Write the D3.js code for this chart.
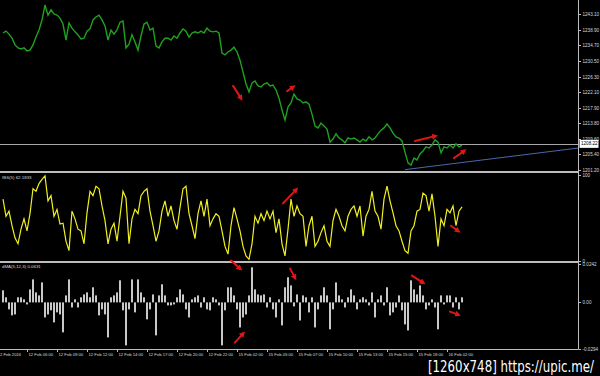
<!DOCTYPE html>
<html lang="en">
<head>
<meta charset="utf-8">
<title>xauusd_m1_ibs_dma</title>
<script src="https://d3js.org/d3.v7.min.js"></script>
<style>
	body { margin:0; background:#000; }
	svg { display:block; background:#000; }
	.Axis text { fill:#d8d8d8; font-family:"Liberation Sans", Arial, sans-serif; font-size:4.6px; }
	.x.Axis text { font-size:4.2px; }
	.Axis line { stroke:#bdbdbd; shape-rendering:crispEdges; }
	.Axis path { display:none; }
	.lbl { fill:#d8d8d8; font-family:"Liberation Sans", Arial, sans-serif; font-size:4.4px; }
</style>
</head>
<body>
<svg id="placeholder1"></svg>
<script>
// ============================================================
//                          data
// ============================================================

// close price, one value per bar (bar 1..154)
var priceData = [
	1238.0, 1238.5, 1237.7, 1236.6, 1234.8, 1234.0, 1233.7, 1234.0, 1233.2, 1233.4,
	1234.8, 1236.9, 1238.8, 1241.5, 1245.5, 1242.8, 1244.2, 1243.1, 1242.8, 1242.0,
	1240.4, 1236.1, 1240.7, 1239.3, 1238.3, 1237.5, 1236.4, 1236.6, 1238.5, 1239.1,
	1241.5, 1242.3, 1242.8, 1241.5, 1239.9, 1236.1, 1238.8, 1237.7, 1238.8, 1240.9,
	1241.2, 1234.0, 1235.0, 1237.5, 1235.6, 1233.4, 1237.2, 1240.4, 1240.9, 1238.8,
	1239.3, 1234.5, 1234.0, 1235.6, 1236.6, 1236.6, 1236.1, 1237.2, 1236.6, 1238.0,
	1239.1, 1238.5, 1236.9, 1238.0, 1238.3, 1238.0, 1238.5, 1238.0, 1239.3, 1238.5,
	1238.3, 1238.5, 1238.0, 1232.6, 1232.1, 1232.9, 1233.4, 1234.2, 1232.9, 1230.7,
	1227.5, 1224.3, 1222.2, 1224.6, 1225.1, 1223.8, 1223.5, 1224.3, 1224.6, 1223.8,
	1224.0, 1222.7, 1220.5, 1217.3, 1214.6, 1218.1, 1219.2, 1221.6, 1220.3, 1220.0,
	1219.2, 1219.5, 1218.9, 1216.2, 1213.0, 1212.5, 1213.8, 1213.0, 1212.2, 1208.7,
	1209.5, 1210.9, 1209.8, 1209.3, 1208.5, 1209.8, 1209.5, 1209.8, 1209.3, 1208.7,
	1209.5, 1209.0, 1210.1, 1209.3, 1209.8, 1210.9, 1211.9, 1212.5, 1213.6, 1212.5,
	1211.1, 1210.1, 1209.8, 1209.0, 1206.0, 1203.1, 1202.5, 1204.4, 1203.9, 1205.5,
	1206.3, 1207.4, 1207.1, 1207.9, 1209.3, 1208.7, 1205.8, 1207.4, 1207.1, 1207.9,
	1207.1, 1208.2, 1207.4, 1207.9
]

// IBS(5) oscillator
var ibsData = [
	72, 52, 58, 41, 27, 20, 37, 49, 35, 55,
	84, 81, 90, 95, 99, 70, 76, 52, 60, 43,
	44, 23, 12, 58, 49, 37, 35, 20, 56, 81,
	76, 87, 84, 64, 47, 20, 37, 44, 23, 52,
	81, 73, 20, 49, 60, 55, 76, 81, 84, 58,
	41, 23, 35, 58, 70, 52, 64, 47, 37, 62,
	84, 87, 55, 41, 26, 55, 70, 52, 72, 41,
	49, 55, 52, 35, 17, 8, 41, 62, 49, 35,
	17, 6, 2, 20, 52, 44, 55, 47, 58, 49,
	58, 33, 49, 20, 6, 37, 72, 52, 64, 55,
	52, 17, 41, 52, 17, 23, 33, 41, 23, 17,
	47, 60, 52, 41, 35, 52, 60, 64, 52, 64,
	29, 52, 60, 81, 58, 52, 37, 72, 87, 70,
	56, 41, 35, 23, 12, 9, 35, 41, 58, 60,
	79, 76, 58, 78, 52, 17, 49, 41, 60, 56,
	64, 41, 58, 63
]

// dMA(5,12,3) histogram
var dmaData = [
	0.0076, 0.0032, -0.0044, -0.0082, -0.0076, 0.0032, 0.0032, 0.0019, -0.0013, 0.0082,
	0.0145, 0.0063, 0.0044, 0.0126, -0.0095, -0.0076, -0.0050, -0.0126, -0.0063, -0.0076,
	-0.0189, 0.0044, 0.0145, -0.0032, 0.0019, -0.0032, 0.0032, 0.0050, 0.0063, 0.0032,
	0.0095, 0.0044, -0.0082, -0.0044, -0.0076, -0.0221, 0.0032, 0.0044, 0.0063, 0.0139,
	-0.0050, -0.0271, -0.0044, 0.0145, -0.0063, 0.0145, 0.0063, 0.0032, -0.0107, -0.0044,
	0.0050, -0.0208, 0.0044, 0.0114, 0.0044, -0.0019, -0.0019, -0.0013, 0.0032, 0.0082,
	0.0050, -0.0044, -0.0095, 0.0019, 0.0032, 0.0044, -0.0032, 0.0032, -0.0044, -0.0050,
	0.0032, 0.0019, -0.0019, -0.0271, -0.0050, 0.0095, 0.0095, 0.0044, -0.0044, -0.0158,
	-0.0095, -0.0076, 0.0044, 0.0221, 0.0082, 0.0050, 0.0044, 0.0050, -0.0032, 0.0032,
	-0.0044, -0.0095, 0.0019, -0.0145, 0.0095, 0.0158, 0.0107, -0.0025, 0.0050, -0.0114,
	0.0044, 0.0032, -0.0063, 0.0032, -0.0158, -0.0044, 0.0044, 0.0095, 0.0044, -0.0170,
	-0.0044, 0.0126, 0.0044, 0.0019, -0.0032, 0.0032, 0.0082, 0.0044, -0.0044, 0.0019,
	0.0032, 0.0019, -0.0019, 0.0063, -0.0095, 0.0019, 0.0044, -0.0019, 0.0095, -0.0082,
	-0.0063, -0.0032, 0.0044, -0.0050, -0.0139, -0.0177, 0.0139, 0.0082, 0.0050, 0.0107,
	0.0044, -0.0044, -0.0019, 0.0019, -0.0032, -0.0170, 0.0044, -0.0013, 0.0044, 0.0044,
	-0.0032, 0.0032, -0.0044, 0.0032
]

// time axis (bar index of each label)
var timeTicks = [-1.3, 9, 19, 29, 39, 49, 59, 69, 79, 89, 99, 109, 119, 129, 139, 149]
var timeLabels = ["12 Feb 2016", "12 Feb 06:00", "12 Feb 09:00", "12 Feb 12:00", "12 Feb 14:00",
	"12 Feb 17:00", "12 Feb 20:00", "12 Feb 22:00", "15 Feb 02:00", "15 Feb 05:00",
	"15 Feb 07:00", "15 Feb 10:00", "15 Feb 13:00", "15 Feb 15:00", "15 Feb 18:00", "16 Feb 02:00"]

// right scale labels
var priceTicks = [1243.10, 1238.90, 1234.70, 1230.50, 1226.30, 1222.10, 1217.90, 1213.80, 1209.60, 1205.40, 1201.20]
var ibsTicks = [100, 0]
var dmaTicks = [0.0242, 0, -0.0294]

var lastPrice = 1208.22
var ibsTitle = "IBS(5) 62.1833"
var dmaTitle = "dMA(5,12,3) 0.0631"

// trend line (bar index, price)
var trendLine = [[135, 1201.3], [192.7, 1207.1]]

// red hand arrows: panel, bar1, value1, bar2, value2
var arrows = [
	["price", 77.7, 1223.8, 80.3, 1220.5],
	["price", 95.7, 1222.4, 97.7, 1223.5],
	["price", 138.3, 1209.0, 145, 1210.3],
	["price", 151.3, 1204.4, 154.7, 1206.3],
	["ibs", 94.3, 67, 98.7, 83],
	["ibs", 150.3, 41, 152.7, 35],
	["dma", 77, 0.0264, 80, 0.0213],
	["dma", 78.3, -0.0254, 81, -0.0197],
	["dma", 96.7, 0.0213, 98.3, 0.0156],
	["dma", 137.3, 0.0169, 141, 0.0125],
	["dma", 150, -0.0058, 152.7, -0.0077]
]

// ============================================================
//                          init
// ============================================================
var green = "#1fa21f"
var yellow = "#f0f020"
var silver = "#c8c8c8"
var gray = "#bdbdbd"
var red = "#e01515"
var navy = "#4a68a8"

var wholeW = 600
var wholeH = 376
var plotR = 578.5   // right scale line

var xScale = d3.scaleLinear().domain([0, 193]).range([0, 579])
var yPrice = d3.scaleLinear().domain([1201.2, 1243.1]).range([170, 14])
var yIbs = d3.scaleLinear().domain([0, 100]).range([261, 175])
var yDma = d3.scaleLinear().domain([-0.0294, 0.0242]).range([349, 264])
var yOf = {price: yPrice, ibs: yIbs, dma: yDma}

var svg = d3.select("#placeholder1")
	.attr("width", wholeW)
	.attr("height", wholeH)

var defs = svg.append("defs")
var clips = [["clipPrice", 0, 171], ["clipIbs", 173, 261], ["clipDma", 263, 349]]
clips.forEach(c => {
	defs.append("clipPath").attr("id", c[0])
		.append("rect").attr("x", 0).attr("y", c[1]).attr("width", plotR).attr("height", c[2] - c[1])
})
defs.append("marker")
	.attr("id", "head")
	.attr("viewBox", "0 0 10 10")
	.attr("refX", 5).attr("refY", 5)
	.attr("markerWidth", 3).attr("markerHeight", 3)
	.attr("orient", "auto")
	.append("path").attr("d", "M0,0L10,5L0,10z").attr("fill", red)

// ============================================================
//                          draw
// ============================================================

// current price line
svg.append("line")
	.attr("x1", 0).attr("x2", plotR)
	.attr("y1", Math.round(yPrice(lastPrice)) + 0.5).attr("y2", Math.round(yPrice(lastPrice)) + 0.5)
	.attr("stroke", "#a8a8a8").attr("stroke-width", 1)

// trend line
svg.append("path")
	.attr("clip-path", "url(#clipPrice)")
	.attr("d", d3.line().x(d => xScale(d[0])).y(d => yPrice(d[1]))(trendLine))
	.attr("stroke", navy).attr("stroke-width", 1).attr("fill", "none")

// price line
var linePrice = d3.line().x((d, i) => xScale(i + 1)).y(d => yPrice(d))
svg.append("path")
	.attr("clip-path", "url(#clipPrice)")
	.attr("d", linePrice(priceData))
	.attr("stroke", green).attr("stroke-width", 1.4).attr("fill", "none")

// IBS line
var lineIbs = d3.line().x((d, i) => xScale(i + 1)).y(d => yIbs(d))
svg.append("path")
	.attr("clip-path", "url(#clipIbs)")
	.attr("d", lineIbs(ibsData))
	.attr("stroke", yellow).attr("stroke-width", 1.2).attr("fill", "none")

// dMA histogram
svg.append("g")
	.attr("clip-path", "url(#clipDma)")
	.selectAll("rect")
	.data(dmaData)
	.join("rect")
		.attr("x", (d, i) => xScale(i + 1) - 1)
		.attr("width", 2)
		.attr("y", d => Math.min(yDma(d), yDma(0)))
		.attr("height", d => Math.abs(yDma(d) - yDma(0)))
		.attr("fill", silver)

// panel separators & frame
svg.append("line").attr("x1", 0).attr("x2", plotR).attr("y1", 172).attr("y2", 172)
	.attr("stroke", gray).attr("stroke-width", 2)
svg.append("line").attr("x1", 0).attr("x2", plotR).attr("y1", 262).attr("y2", 262)
	.attr("stroke", gray).attr("stroke-width", 2)
svg.append("line").attr("x1", 0).attr("x2", plotR).attr("y1", 349.5).attr("y2", 349.5)
	.attr("stroke", gray).attr("stroke-width", 1)
svg.append("line").attr("x1", plotR).attr("x2", plotR).attr("y1", 0).attr("y2", 349.5)
	.attr("stroke", gray).attr("stroke-width", 1)

// right scales
svg.append("g").attr("class", "y Axis")
	.attr("transform", "translate(" + plotR + ",0)")
	.call(d3.axisRight(yPrice).tickValues(priceTicks).tickSize(2).tickPadding(2).tickFormat(d => d.toFixed(2)))
svg.append("g").attr("class", "y Axis")
	.attr("transform", "translate(" + plotR + ",0)")
	.call(d3.axisRight(yIbs).tickValues(ibsTicks).tickSize(2).tickPadding(2).tickFormat(d => d))
svg.append("g").attr("class", "y Axis")
	.attr("transform", "translate(" + plotR + ",0)")
	.call(d3.axisRight(yDma).tickValues(dmaTicks).tickSize(2).tickPadding(2)
		.tickFormat(d => d === 0 ? "0.00" : d.toFixed(4)))

// last price box
var lp = yPrice(lastPrice)
svg.append("rect").attr("x", plotR + 1).attr("y", lp - 4).attr("width", 19).attr("height", 8).attr("fill", "#ffffff")
svg.append("text").attr("class", "lbl")
	.attr("x", plotR + 2.5).attr("y", lp).attr("dy", "0.35em")
	.style("fill", "#000").style("font-size", "4.6px").text(lastPrice.toFixed(2))

// time axis
var xAxis = d3.axisBottom(xScale)
	.tickValues(timeTicks).tickSize(2).tickPadding(2)
	.tickFormat((d, i) => timeLabels[i])
svg.append("g").attr("class", "x Axis")
	.attr("transform", "translate(0,349.5)")
	.call(xAxis)
	.selectAll("text")
		.attr("text-anchor", "start")
		.attr("dx", 1)

// indicator titles
svg.append("text").attr("class", "lbl").attr("x", 2).attr("y", 178.5).text(ibsTitle)
svg.append("text").attr("class", "lbl").attr("x", 2).attr("y", 268).text(dmaTitle)

// red arrows
svg.append("g").selectAll("line")
	.data(arrows)
	.join("line")
		.attr("x1", d => xScale(d[1])).attr("y1", d => yOf[d[0]](d[2]))
		.attr("x2", d => xScale(d[3])).attr("y2", d => yOf[d[0]](d[4]))
		.attr("stroke", red).attr("stroke-width", 2).attr("stroke-linecap", "round")
		.attr("marker-end", "url(#head)")

// watermark
svg.append("text")
	.attr("x", 428).attr("y", 372)
	.attr("textLength", 166).attr("lengthAdjust", "spacingAndGlyphs")
	.style("font-family", "'DejaVu Sans', sans-serif").style("font-size", "15px")
	.style("fill", "#ffffff")
	.text("[1260x748] https://upic.me/")
</script>
</body>
</html>
